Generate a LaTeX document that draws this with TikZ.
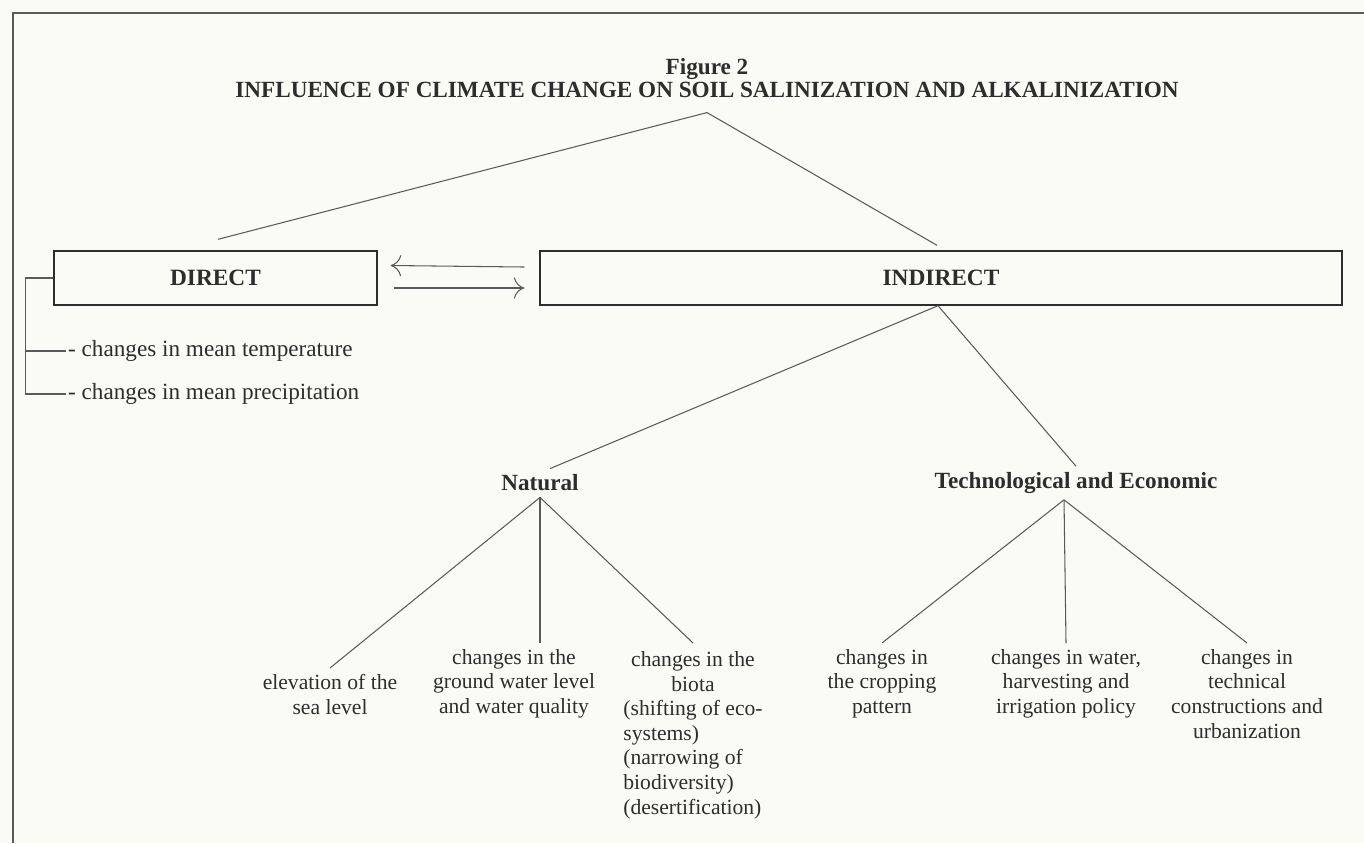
\documentclass[tikz,border=0pt]{standalone}
\usepackage{fontspec}
\setmainfont{Liberation Serif}
\usepackage{xcolor}
\usepackage{tikz}
\usetikzlibrary{arrows.meta}
\definecolor{paper}{RGB}{251,251,246}
\definecolor{ink}{RGB}{45,45,45}
\definecolor{rule}{RGB}{90,90,90}

\begin{document}
\begin{tikzpicture}[x=0.02cm,y=-0.02cm,
  every node/.style={text=ink},
  head/.style={font=\bfseries\fontsize{13.2}{13}\selectfont},
  leaf/.style={font=\fontsize{12.3}{14}\selectfont, align=center, anchor=north},
  note/.style={font=\fontsize{13.2}{14}\selectfont, anchor=west, inner sep=1pt},
  box/.style={draw=ink, line width=0.8pt, minimum height=1.08cm, font=\bfseries\fontsize{13.3}{15}\selectfont},
  link/.style={draw=rule, line width=0.6pt},
  tip/.style={-{To[length=6pt,width=12pt]}}]
% Page and frame
\fill[paper] (0,0) rectangle (1364,843);
\useasboundingbox (0,0) rectangle (1364,843);
\draw[rule, line width=1pt] (13,843) -- (13,13) -- (1364,13);

% Title
\node[head, align=center] (title) at (707,78) {Figure 2\\INFLUENCE OF CLIMATE CHANGE ON SOIL SALINIZATION AND ALKALINIZATION};

% Direct and indirect
\node[box, minimum width=6.46cm] (direct) at (215.5,278) {DIRECT};
\node[box, minimum width=16.04cm] (indirect) at (941,278) {INDIRECT};
\draw[link] ([yshift=-5pt]title.south) -- ([shift={(0.05cm,0.22cm)}]direct.north);
\draw[link] ([yshift=-5pt]title.south) -- ([shift={(-0.08cm,0.1cm)}]indirect.north);
\draw[link, tip] ([shift={(-0.3cm,0.22cm)}]indirect.west) -- ([shift={(0.26cm,0.25cm)}]direct.east);
\draw[link, tip] ([shift={(0.32cm,-0.2cm)}]direct.east) -- ([shift={(-0.3cm,-0.2cm)}]indirect.west);

% Direct effects
\node[note] (temp) at (66,351) {- changes in mean temperature};
\node[note] (precip) at (66,394) {- changes in mean precipitation};
\draw[link] (direct.west) -- ++(-28,0) coordinate (brk) |- (precip.west);
\draw[link] (temp.west) -- (temp.west -| brk);

% Indirect effects
\node[head] (natural) at (540,483) {Natural};
\node[head] (tech) at (1076,483) {Technological and Economic};
\draw[link] ([xshift=-0.06cm]indirect.south) -- ([xshift=0.2cm]natural.north);
\draw[link] ([xshift=-0.06cm]indirect.south) -- (tech.north);

% Natural
\node[leaf] (sea) at (330,668) {elevation of the\\sea level};
\node[leaf] (ground) at (514,643) {changes in the\\ground water level\\and water quality};
\node[leaf] (biota) at (693,643) {\begin{tabular}{@{}l@{}}\multicolumn{1}{@{}c@{}}{changes in the}\\\multicolumn{1}{@{}c@{}}{biota}\\(shifting of eco-\\systems)\\(narrowing of\\biodiversity)\\(desertification)\end{tabular}};
\draw[link] (natural.south) -- (sea.north);
\draw[link] (natural.south) -- (natural.south |- ground.north);
\draw[link] (natural.south) -- (biota.north);

% Technological and economic
\node[leaf] (cropping) at (882,643) {changes in\\the cropping\\pattern};
\node[leaf] (water) at (1066,643) {changes in water,\\harvesting and\\irrigation policy};
\node[leaf] (technical) at (1247,643) {changes in\\technical\\constructions and\\urbanization};
\foreach \leafname in {cropping,water,technical}
  \draw[link] ([xshift=-0.24cm]tech.south) -- (\leafname.north);
\end{tikzpicture}
\end{document}
